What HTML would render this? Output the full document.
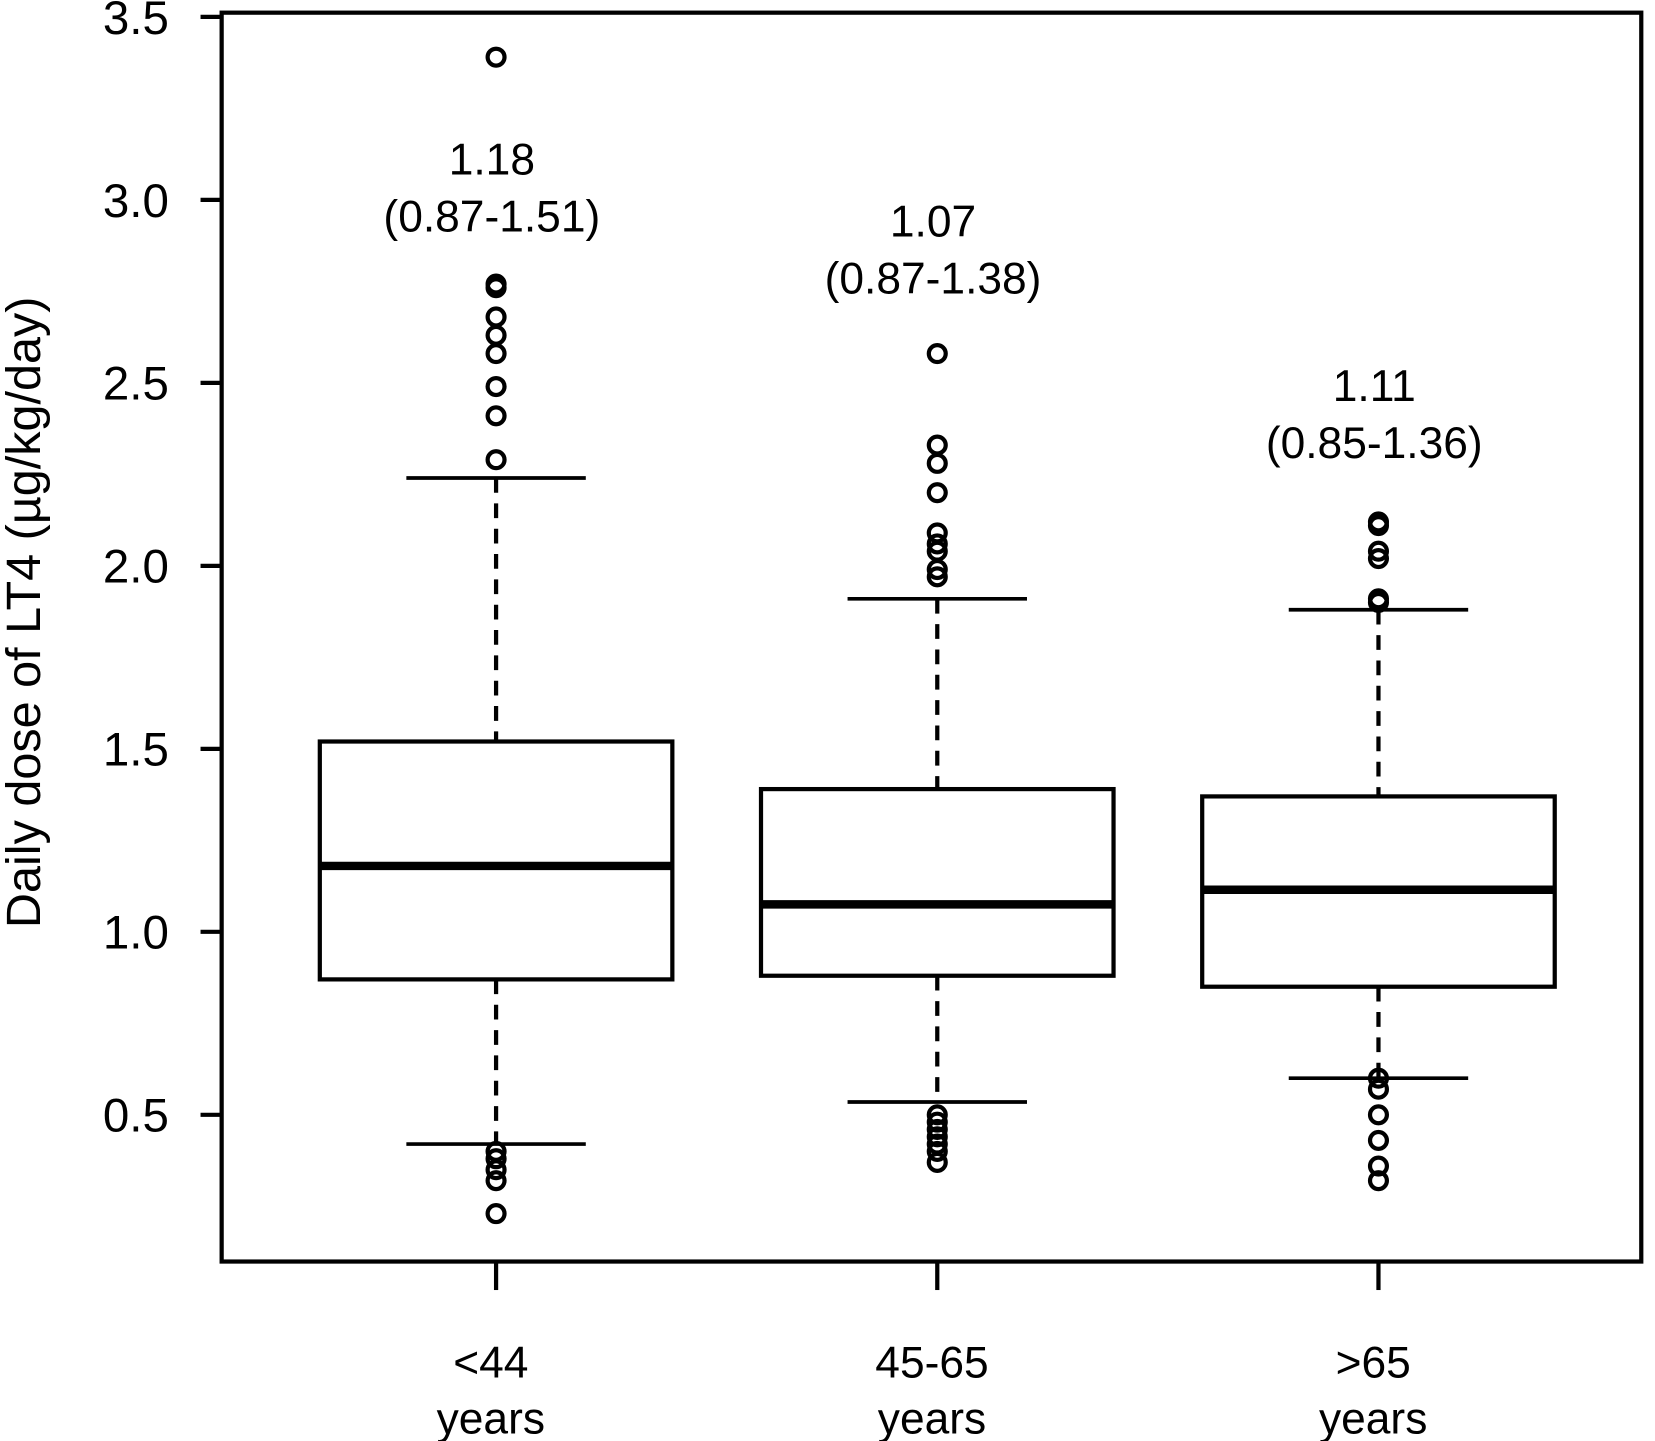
<!DOCTYPE html>
<html><head><meta charset="utf-8"><style>body{margin:0;background:#fff}svg{display:block}text{font-family:"Liberation Sans",sans-serif;fill:#000}</style></head>
<body>
<svg id="chart" width="1655" height="1441" viewBox="0 0 1568 1365" preserveAspectRatio="none" xmlns="http://www.w3.org/2000/svg"></svg>
<script>
const categories=["<44","45-65",">65"];
const q1=[0.87,0.88,0.85];
const medians=[1.18,1.075,1.115];
const q3=[1.52,1.39,1.37];
const whiskLow=[0.42,0.535,0.60];
const whiskHigh=[2.24,1.91,1.88];
const outliers=[[3.39,2.77,2.76,2.68,2.63,2.58,2.49,2.41,2.29,0.40,0.38,0.35,0.32,0.23],[2.58,2.33,2.28,2.20,2.09,2.06,2.04,1.99,1.97,0.50,0.48,0.46,0.44,0.42,0.40,0.37],[2.12,2.11,2.04,2.02,1.91,1.90,0.60,0.57,0.50,0.43,0.36,0.32]];
const annotMain=["1.18","1.07","1.11"];
const annotRange=["(0.87-1.51)","(0.87-1.38)","(0.85-1.36)"];
const annotPos=[3.07,2.90,2.45];
const yTicks=[0.5,1.0,1.5,2.0,2.5,3.0,3.5];
const NS="http://www.w3.org/2000/svg",svg=document.getElementById('chart');
const y=v=>16+(3.5-v)*346.67;
const x=i=>470+i*418;
function mk(t,a,p){const e=document.createElementNS(NS,t);for(const k in a)e.setAttribute(k,a[k]);(p||svg).appendChild(e);return e;}
let fr=mk('rect',{x:210,y:12,width:1345,height:1183,fill:'none',stroke:'#000','stroke-width':4});

yTicks.forEach(v=>{
 let l=mk('line',{x1:190,x2:210,y1:y(v),y2:y(v),stroke:'#000','stroke-width':4});
 
 let t=mk('text',{x:160,y:y(v)+16,'font-size':45,'text-anchor':'end'});t.textContent=v.toFixed(1);
 
});
let yt=mk('text',{x:0,y:0,'font-size':46,'text-anchor':'middle',transform:'translate(38,580) rotate(-90)'});yt.textContent='Daily dose of LT4 (µg/kg/day)';

categories.forEach((c,i)=>{
 const cx=x(i);
 const g=mk('g',{});
 mk('line',{x1:cx,x2:cx,y1:y(whiskHigh[i]),y2:y(q3[i]),stroke:'#000','stroke-width':4,'stroke-dasharray':'14,10'},g);
 mk('line',{x1:cx,x2:cx,y1:y(q1[i]),y2:y(whiskLow[i]),stroke:'#000','stroke-width':4,'stroke-dasharray':'14,10'},g);
 mk('line',{x1:cx-85,x2:cx+85,y1:y(whiskHigh[i]),y2:y(whiskHigh[i]),stroke:'#000','stroke-width':3.5},g);
 mk('line',{x1:cx-85,x2:cx+85,y1:y(whiskLow[i]),y2:y(whiskLow[i]),stroke:'#000','stroke-width':3.5},g);
 mk('rect',{x:cx-167,y:y(q3[i]),width:334,height:y(q1[i])-y(q3[i]),fill:'#fff',stroke:'#000','stroke-width':4},g);
 mk('line',{x1:cx-167,x2:cx+167,y1:y(medians[i]),y2:y(medians[i]),stroke:'#000','stroke-width':8},g);
 outliers[i].forEach(v=>{let o=mk('circle',{cx:cx,cy:y(v),r:8,fill:'none',stroke:'#000','stroke-width':4},g);
  });
 let a=mk('text',{x:cx-4,y:y(annotPos[i]),'font-size':42,'text-anchor':'middle'});a.textContent=annotMain[i];
 
 let b=mk('text',{x:cx-4,y:y(annotPos[i])+54,'font-size':42,'text-anchor':'middle'});b.textContent=annotRange[i];
 
 let tk=mk('line',{x1:cx,x2:cx,y1:1195,y2:1222,stroke:'#000','stroke-width':4});
 
 let l1=mk('text',{x:cx-5,y:1305,'font-size':42,'text-anchor':'middle'});l1.textContent=c;
 
 let l2=mk('text',{x:cx-5,y:1358,'font-size':42,'text-anchor':'middle'});l2.textContent='years';
 
});
</script>
</body></html>
